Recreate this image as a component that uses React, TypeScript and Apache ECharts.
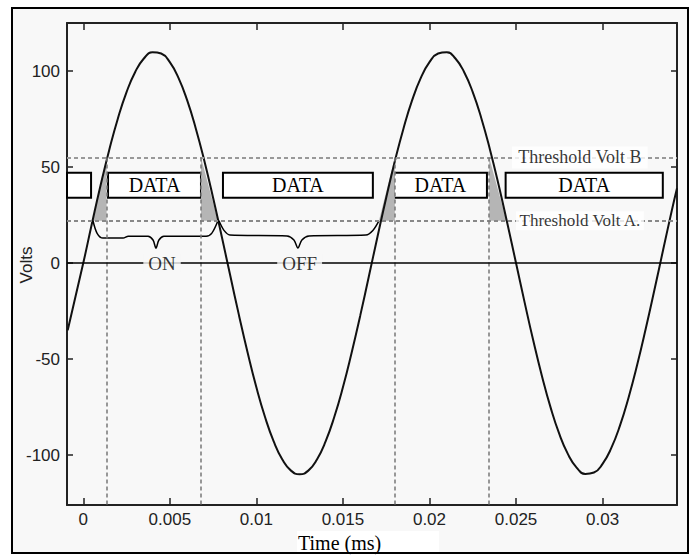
import React, { useEffect, useRef } from "react";
import * as echarts from "echarts";

// Sine wave (time in ms-axis units, volts)
const TIME = [
  -0.0009, 0, 0.0005, 0.001, 0.0015, 0.002, 0.0025, 0.003, 0.0035, 0.004, 0.0045,
  0.005, 0.0055, 0.006, 0.0065, 0.007, 0.0075, 0.008, 0.0085, 0.009, 0.0095,
  0.01, 0.0105, 0.011, 0.0115, 0.012, 0.0125, 0.013, 0.0135, 0.014, 0.0145,
  0.015, 0.0155, 0.016, 0.0165, 0.017, 0.0175, 0.018, 0.0185, 0.019, 0.0195,
  0.02, 0.0205, 0.021, 0.0215, 0.022, 0.0225, 0.023, 0.0235, 0.024, 0.0245,
  0.025, 0.0255, 0.026, 0.0265, 0.027, 0.0275, 0.028, 0.0285, 0.029, 0.0295,
  0.03, 0.0305, 0.031, 0.0315, 0.032, 0.0325, 0.033, 0.0335, 0.034, 0.0343,
];
const VOLTS = [
  -35, 0, 20.6, 40.5, 58.9, 75.3, 89, 99.5, 106.5, 109.8, 109.1,
  104.6, 96.4, 84.8, 70.1, 53, 34, 13.8, -6.9, -27.4, -46.8,
  -64.7, -80.2, -92.9, -102.3, -108.1, -110, -108.1, -102.3, -92.9, -80.2,
  -64.7, -46.8, -27.4, -6.9, 13.8, 34, 53, 70.1, 84.8, 96.4,
  104.6, 109.1, 109.8, 106.5, 99.5, 89, 75.3, 58.9, 40.5, 20.6,
  0, -20.6, -40.5, -58.9, -75.3, -89, -99.5, -106.5, -109.8, -109.1,
  -104.6, -96.4, -84.8, -70.1, -53, -34, -13.8, 6.9, 27.4, 39,
];

const X_TICKS = [0, 0.005, 0.01, 0.015, 0.02, 0.025, 0.03];
const Y_TICKS = [-100, -50, 0, 50, 100];
const X_MIN = -0.00094;
const X_MAX = 0.0343;
const Y_MIN = -126;
const Y_MAX = 125;

const THRESHOLD_B = 55;
const THRESHOLD_A = 22;
const EDGE_TIMES = [0.00135, 0.0068, 0.018, 0.02345];

const BOX_LOW = 34;
const BOX_HIGH = 47;
const BOX_START = [X_MIN, 0.00143, 0.00807, 0.01794, 0.0244];
const BOX_END = [0.00045, 0.0068, 0.01673, 0.02332, 0.03348];
const BOX_TEXT = ["", "DATA", "DATA", "DATA", "DATA"];

// shaded triangles: [t1, v1, t2, v2, t3, v3]
const SHADES = [
  [0.00056, 22, 0.00135, 55, 0.00135, 22],
  [0.0068, 55, 0.00778, 22, 0.0068, 22],
  [0.01708, 22, 0.018, 55, 0.018, 22],
  [0.02345, 55, 0.02445, 22, 0.02345, 22],
];

const BRACE_ON_T = [0.00056, 0.0008, 0.00114, 0.0023, 0.0026, 0.00374, 0.00403, 0.0042, 0.00437, 0.00466, 0.0071, 0.00743, 0.00778];
const BRACE_ON_V = [22, 15.5, 13, 13, 14, 14, 12, 7.8, 12, 14, 14, 15.6, 22];
const BRACE_OFF_T = [0.00784, 0.00813, 0.00847, 0.01177, 0.01217, 0.0124, 0.01263, 0.01304, 0.01633, 0.01673, 0.01708];
const BRACE_OFF_V = [22, 17, 14.6, 14.1, 12, 7.8, 12, 14.1, 14.6, 17, 22];

const STATE_NAMES = ["ON", "OFF"];
const STATE_TIMES = [0.00455, 0.0125];
const THRESHOLD_NAMES = ["Threshold Volt B", "Threshold Volt A."];
const THRESHOLD_LABEL_TIME = 0.02869;

const PLOT_BG = "#f8f8f8";
const AXIS_COLOR = "#222";

export default function App() {
  const ref = useRef<HTMLDivElement>(null);

  useEffect(() => {
    if (!ref.current) return;
    const chart = echarts.init(ref.current, undefined, { renderer: "svg" });

    const sine = TIME.map((t, i) => [t, VOLTS[i]]);
    const braceOn = BRACE_ON_T.map((t, i) => [t, BRACE_ON_V[i]]);
    const braceOff = BRACE_OFF_T.map((t, i) => [t, BRACE_OFF_V[i]]);

    const xFmt = (v: number) => (v === 0 ? "0" : String(parseFloat(v.toFixed(3))));

    const axisLine = { show: true, onZero: false, lineStyle: { color: AXIS_COLOR, width: 2 } };
    const tickStyle = { color: AXIS_COLOR, width: 1.5 };
    const labelFont = { fontFamily: "Liberation Sans", fontSize: 17, color: AXIS_COLOR };

    const option: any = {
      animation: false,
      backgroundColor: "#ffffff",
      graphic: [
        {
          type: "rect",
          z: -10,
          shape: { x: 12, y: 8, width: 676, height: 545 },
          style: { fill: PLOT_BG, stroke: "#000", lineWidth: 2 },
          silent: true,
        },
        {
          type: "rect",
          z: 5,
          shape: { x: 297, y: 531, width: 142, height: 21 },
          style: { fill: "#ffffff" },
          silent: true,
        },
        {
          type: "text",
          z: 6,
          x: 298,
          y: 543,
          style: {
            text: "Time (ms)",
            fontFamily: "Liberation Serif",
            fontSize: 20,
            fill: "#000",
            textAlign: "left",
            textVerticalAlign: "middle",
          },
          silent: true,
        },
        {
          type: "text",
          z: 6,
          x: 26,
          y: 265,
          rotation: Math.PI / 2,
          style: {
            text: "Volts",
            fontFamily: "Liberation Sans",
            fontSize: 17,
            fill: AXIS_COLOR,
            textAlign: "center",
            textVerticalAlign: "middle",
          },
          silent: true,
        },
      ],
      grid: { left: 67, top: 23, width: 610, height: 482, show: false },
      xAxis: [
        {
          type: "value",
          position: "bottom",
          min: X_MIN,
          max: X_MAX,
          axisLine,
          axisTick: { show: true, inside: true, length: 7, customValues: X_TICKS, lineStyle: tickStyle },
          axisLabel: { show: true, customValues: X_TICKS, formatter: xFmt, margin: 6, ...labelFont },
          splitLine: { show: false },
        },
        {
          type: "value",
          position: "top",
          min: X_MIN,
          max: X_MAX,
          axisLine,
          axisTick: { show: true, inside: true, length: 7, customValues: X_TICKS, lineStyle: tickStyle },
          axisLabel: { show: false },
          splitLine: { show: false },
        },
      ],
      yAxis: [
        {
          type: "value",
          position: "left",
          min: Y_MIN,
          max: Y_MAX,
          axisLine,
          axisTick: { show: true, inside: true, length: 6, customValues: Y_TICKS, lineStyle: tickStyle },
          axisLabel: { show: true, customValues: Y_TICKS, margin: 7, ...labelFont },
          splitLine: { show: false },
        },
        {
          type: "value",
          position: "right",
          min: Y_MIN,
          max: Y_MAX,
          axisLine,
          axisTick: { show: true, inside: true, length: 6, customValues: Y_TICKS, lineStyle: tickStyle },
          axisLabel: { show: false },
          splitLine: { show: false },
        },
      ],
      series: [
        {
          type: "custom",
          z: 1,
          silent: true,
          clip: true,
          encode: { x: [0, 2, 4], y: [1, 3, 5] },
          data: SHADES,
          renderItem: (params: any, api: any) => {
            const pts = [0, 1, 2].map((i) => api.coord([api.value(2 * i), api.value(2 * i + 1)]));
            return { type: "polygon", shape: { points: pts }, style: { fill: "#b5b5b5" } };
          },
        },
        {
          type: "line",
          z: 2,
          silent: true,
          data: [],
          markLine: {
            silent: true,
            symbol: "none",
            label: { show: false },
            emphasis: { disabled: true },
            data: [
              { yAxis: THRESHOLD_B, lineStyle: { color: "#999", type: [4, 3], width: 2 } },
              { yAxis: THRESHOLD_A, lineStyle: { color: "#888", type: [4, 3], width: 2 } },
              ...EDGE_TIMES.map((t) => [
                { coord: [t, THRESHOLD_B], lineStyle: { color: "#777", type: [4, 3], width: 1.5 } },
                { coord: [t, Y_MIN] },
              ]),
              { yAxis: 0, lineStyle: { color: "#000", type: "solid", width: 1.5 } },
            ],
          },
        },
        {
          type: "line",
          z: 3,
          silent: true,
          data: sine,
          smooth: true,
          symbol: "none",
          lineStyle: { color: "#111", width: 2 },
        },
        {
          type: "line",
          z: 3,
          silent: true,
          data: braceOn,
          smooth: 0.3,
          symbol: "none",
          lineStyle: { color: "#000", width: 1.5 },
        },
        {
          type: "line",
          z: 3,
          silent: true,
          data: braceOff,
          smooth: 0.3,
          symbol: "none",
          lineStyle: { color: "#000", width: 1.5 },
        },
        {
          type: "line",
          z: 4,
          silent: true,
          data: [],
          markArea: {
            silent: true,
            itemStyle: { color: "#ffffff", borderColor: "#000", borderWidth: 2, opacity: 1 },
            label: {
              show: true,
              position: "inside",
              fontFamily: "Liberation Serif",
              fontSize: 20,
              color: "#000",
            },
            emphasis: { disabled: true },
            data: BOX_START.map((s, i) => [
              { name: BOX_TEXT[i], xAxis: s, yAxis: BOX_LOW },
              { xAxis: BOX_END[i], yAxis: BOX_HIGH },
            ]),
          },
        },
        {
          type: "scatter",
          z: 10,
          silent: true,
          symbolSize: 1,
          itemStyle: { color: "rgba(0,0,0,0)" },
          data: [
            ...STATE_NAMES.map((n, i) => ({
              value: [STATE_TIMES[i], 0],
              name: n,
              label: {
                show: true,
                formatter: "{b}",
                position: "inside",
                fontFamily: "Liberation Serif",
                fontSize: 19,
                color: "#000",
                backgroundColor: PLOT_BG,
                padding: [0, 5],
              },
            })),
            ...THRESHOLD_NAMES.map((n, i) => ({
              value: [THRESHOLD_LABEL_TIME, i === 0 ? THRESHOLD_B : THRESHOLD_A],
              name: n,
              label: {
                show: true,
                formatter: "{b}",
                position: "inside",
                fontFamily: "Liberation Serif",
                fontSize: i === 0 ? 18 : 17,
                color: "#000",
                backgroundColor: "#ffffff",
                padding: i === 0 ? [2, 6] : [1, 3],
              },
            })),
          ],
        },
      ],
    };

    chart.setOption(option);
    return () => chart.dispose();
  }, []);

  return (
    <div
      ref={ref}
      style={{ position: "absolute", left: 0, top: 0, width: 695, height: 558 }}
    />
  );
}
